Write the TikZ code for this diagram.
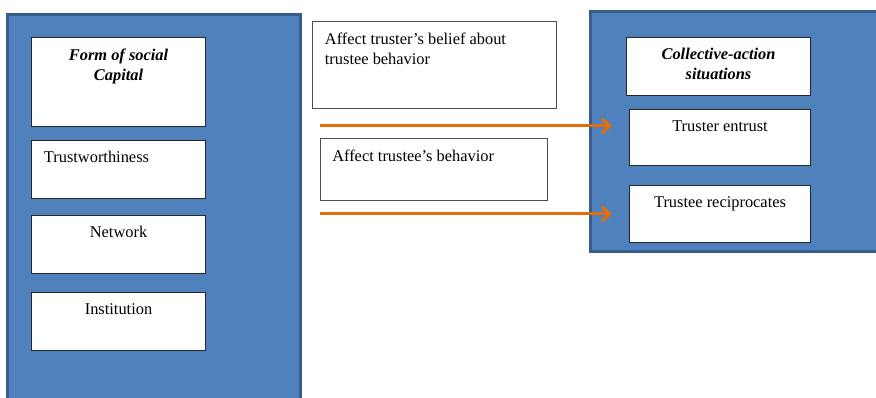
\documentclass[tikz,border=0pt]{standalone}
\usepackage{fontspec}
\setmainfont{Liberation Serif}
\usetikzlibrary{arrows.meta}

\definecolor{panelblue}{HTML}{4F81BD}
\definecolor{paneledge}{HTML}{385D8A}
\definecolor{flowline}{HTML}{E46C0A}

\def\px{0.75pt}   % one pixel of the layout

\begin{document}
\begin{tikzpicture}[x=\px, y=-\px,
        panel/.style={draw=paneledge, fill=panelblue, line width=2.25pt},
        inbox/.style={draw=black!85, fill=white, line width=0.8pt, anchor=north west, inner sep=0pt},
        midbox/.style={draw=black!70, fill=white, line width=1pt, anchor=north west, inner sep=0pt},
        txt/.style={inner sep=0pt, font=\fontsize{12.3}{15}\selectfont},
        head/.style={inner sep=0pt, align=center, font=\fontsize{12.3}{15}\selectfont\bfseries\itshape},
        flow/.style={draw=flowline, line width=2.25pt, -{Straight Barb[length=6pt, width=11pt]}}]

        \useasboundingbox (0,0) rectangle (876,398);
        \clip (0,0) rectangle (876,398);

        % Panels
        \draw[panel] (7,15) rectangle (300,410);
        \draw[panel] (590,12) rectangle (890,252);

        % Form of social capital
        \node[inbox, minimum width=174*\px, minimum height=89*\px] (form) at (31,37) {};
        \node[head, anchor=north] (formtxt) at ([yshift=-8.5pt]form.north) {Form of social\\Capital};

        \node[inbox, minimum width=174*\px, minimum height=58*\px] (trust) at (31,140) {};
        \node[txt, anchor=north west] (trusttxt) at ([xshift=9.5pt, yshift=-8.5pt]trust.north west) {Trustworthiness};

        \node[inbox, minimum width=174*\px, minimum height=58*\px] (net) at (31,215) {};
        \node[txt, anchor=north] (nettxt) at ([yshift=-8.5pt]net.north) {Network};

        \node[inbox, minimum width=174*\px, minimum height=58*\px] (inst) at (31,292) {};
        \node[txt, anchor=north] (insttxt) at ([yshift=-8.5pt]inst.north) {Institution};

        % Mechanisms
        \node[midbox, minimum width=244*\px, minimum height=87*\px] (belief) at (312,21) {};
        \node[txt, anchor=north west, align=left] (belieftxt) at ([xshift=9.5pt, yshift=-8.5pt]belief.north west)
            {Affect truster’s belief about\\trustee behavior};

        \node[midbox, minimum width=227*\px, minimum height=62*\px] (behav) at (320,138) {};
        \node[txt, anchor=north west] (behavtxt) at ([xshift=9pt, yshift=-8.5pt]behav.north west) {Affect trustee’s behavior};

        % Collective-action situations
        \node[inbox, minimum width=184*\px, minimum height=58*\px] (coll) at (626,37) {};
        \node[head, anchor=north] (colltxt) at ([yshift=-8.5pt]coll.north) {Collective-action\\situations};

        \node[inbox, minimum width=181*\px, minimum height=56*\px] (entrust) at (629,109) {};
        \node[txt, anchor=north] (entrusttxt) at ([yshift=-8.5pt]entrust.north) {Truster entrust};

        \node[inbox, minimum width=181*\px, minimum height=57*\px] (recip) at (629,185) {};
        \node[txt, anchor=north] (reciptxt) at ([yshift=-8.5pt]recip.north) {Trustee reciprocates};

        % Arrows
        \coordinate (flowAin) at (320,126);
        \coordinate (flowAout) at (612,126);
        \coordinate (flowBin) at (320,214);
        \coordinate (flowBout) at (612,214);
        \draw[flow] (flowAin) -- (flowAout);
        \draw[flow] (flowBin) -- (flowBout);

\end{tikzpicture}
\end{document}
